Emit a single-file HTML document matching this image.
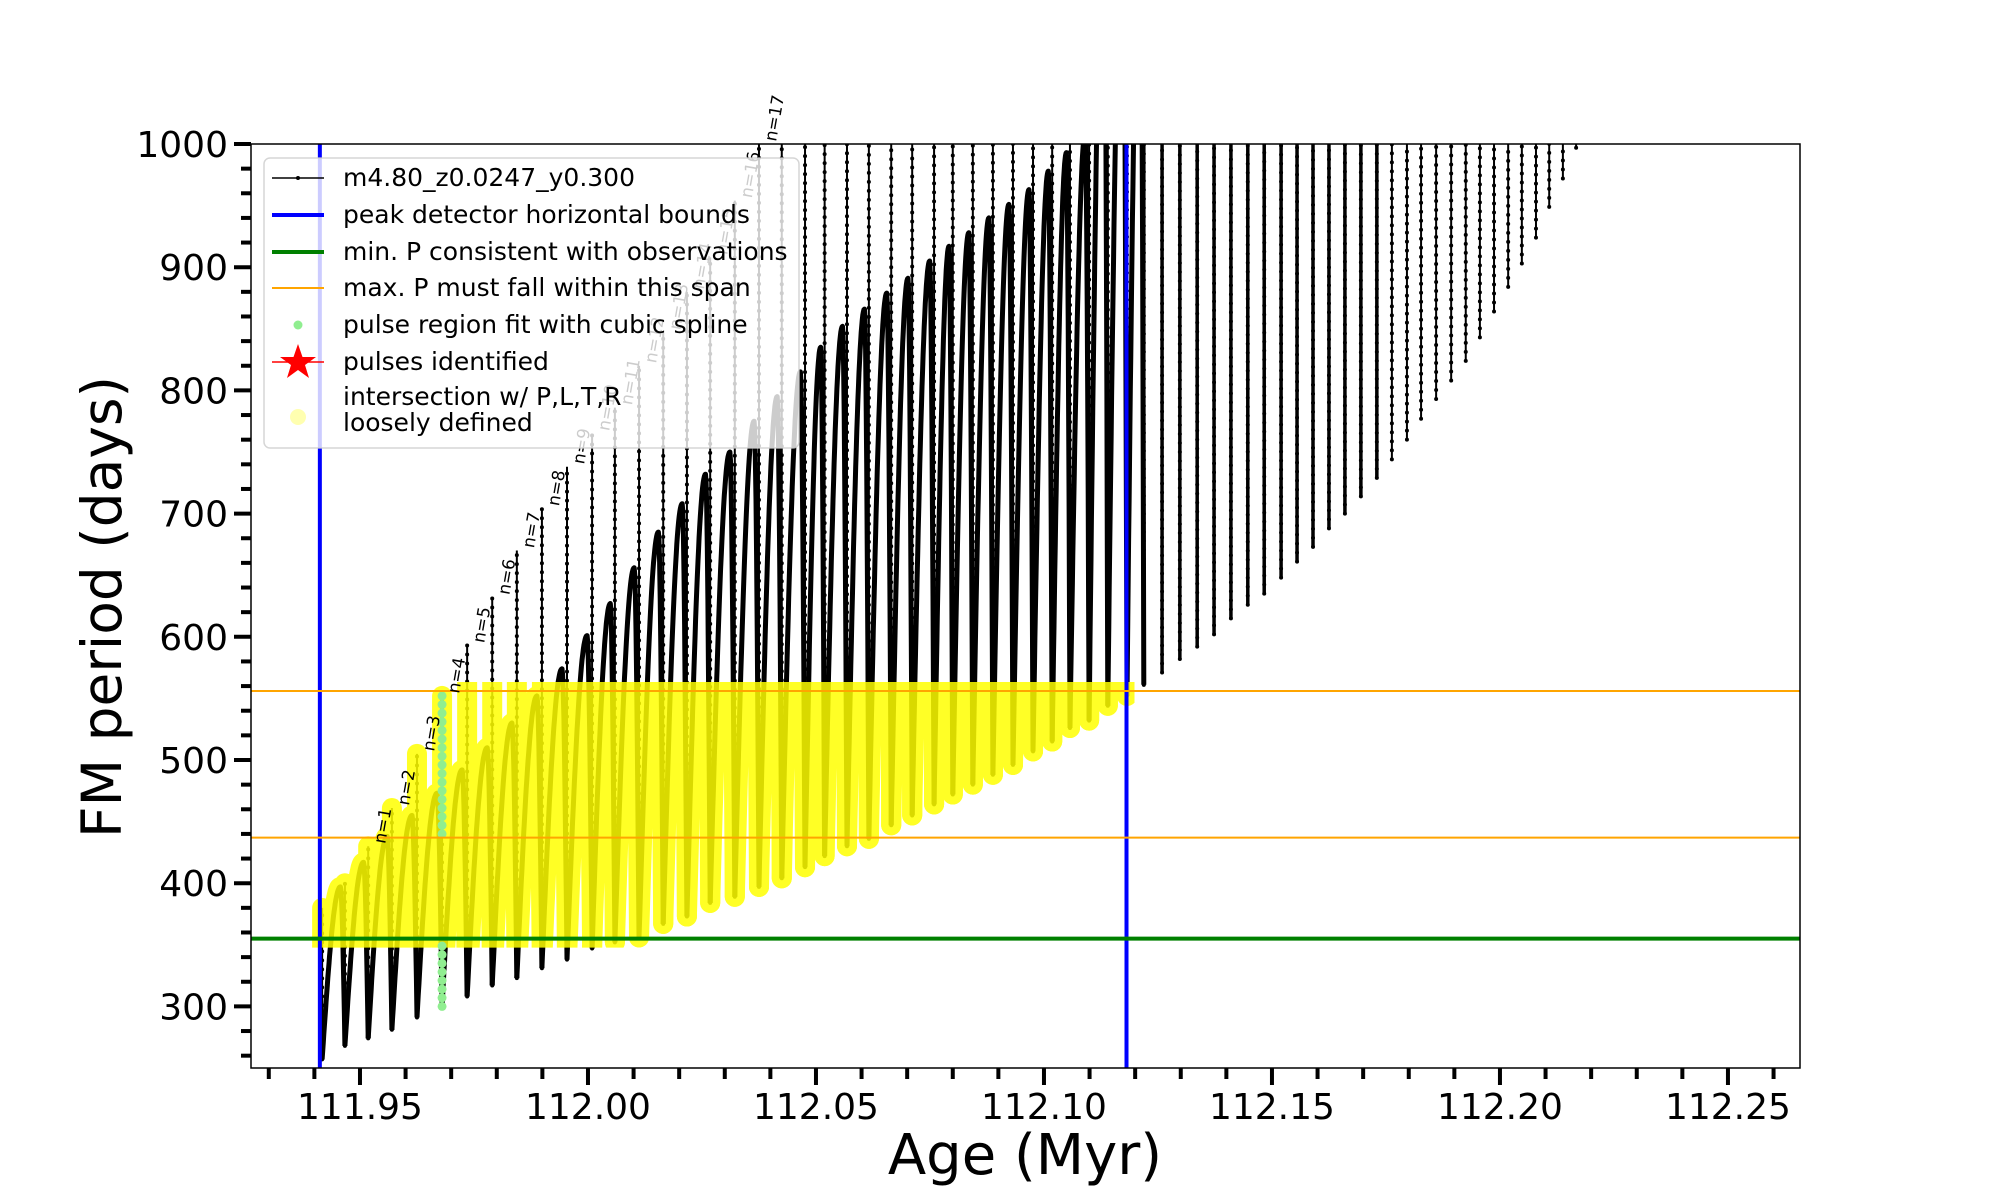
<!DOCTYPE html>
<html><head><meta charset="utf-8"><title>FM period vs Age</title>
<style>
html,body{margin:0;padding:0;background:#fff;}
svg{display:block;font-family:"DejaVu Sans","Liberation Sans",sans-serif;}
</style></head>
<body>
<svg id="chart" width="2000" height="1200" viewBox="0 0 2000 1200" xmlns="http://www.w3.org/2000/svg">
<defs>
<clipPath id="plotClip"><rect x="251" y="144" width="1549" height="924"/></clipPath>
<clipPath id="yellowClip"><rect id="yellowClipRect" x="251" y="0" width="0" height="0"/></clipPath>
</defs>
<rect x="251" y="144" width="1549" height="924" fill="#fff"/>
<g id="dataLayer" clip-path="url(#plotClip)"></g>
<g id="labelLayer"></g>
<g id="axisLayer"></g>
<g id="legend">
<rect x="264" y="158" width="535" height="290" rx="6" fill="#fff" fill-opacity="0.8" stroke="#ccc" stroke-opacity="0.8" stroke-width="1.5"/>
<g>
<line x1="272" y1="178" x2="324" y2="178" stroke="#000" stroke-width="1.5"/><circle cx="298" cy="178" r="2" fill="#000"/>
<text x="343" y="186" font-size="25">m4.80_z0.0247_y0.300</text></g>
<g>
<line x1="272" y1="215" x2="324" y2="215" stroke="#0000ff" stroke-width="4"/>
<text x="343" y="223" font-size="25">peak detector horizontal bounds</text></g>
<g>
<line x1="272" y1="252" x2="324" y2="252" stroke="#008000" stroke-width="4"/>
<text x="343" y="260" font-size="25">min. P consistent with observations</text></g>
<g>
<line x1="272" y1="288" x2="324" y2="288" stroke="#ffa500" stroke-width="2"/>
<text x="343" y="296" font-size="25">max. P must fall within this span</text></g>
<g>
<circle cx="298" cy="325" r="4.5" fill="#90ee90"/>
<text x="343" y="333" font-size="25">pulse region fit with cubic spline</text></g>
<g>
<line x1="272" y1="362" x2="324" y2="362" stroke="#ff0000" stroke-width="1.5"/>
<polygon points="298,344 302.5,357 316,357 305,365 309,378 298,370 287,378 291,365 280,357 293.5,357" fill="#ff0000"/>
<text x="343" y="370" font-size="25">pulses identified</text></g>
<g>
<circle cx="298" cy="417" r="8" fill="#ffffb0"/>
<text x="343" y="405" font-size="25">intersection w/ P,L,T,R</text>
<text x="343" y="431" font-size="25">loosely defined</text></g>
</g>
<text x="102" y="607" font-size="55" text-anchor="middle" transform="rotate(-90 102 607)" dy="19">FM period (days)</text>
<text x="1025" y="1174" font-size="56" text-anchor="middle">Age (Myr)</text>
</svg>
<script>
const pulseAges = [111.9417,111.9467,111.9518,111.9570,111.9625,111.9680,111.9735,111.9790,111.9844,111.9899,111.9954,112.0009,112.0059,112.0112,112.0165,112.0217,112.0268,112.0322,112.0375,112.0425,112.0476,112.0519,112.0568,112.0616,112.0665,112.0711,112.0759,112.0800,112.0844,112.0888,112.0932,112.0976,112.1018,112.1057,112.1099,112.1140,112.1182,112.1219,112.1259,112.1298,112.1336,112.1373,112.1410,112.1447,112.1483,112.1520,112.1555,112.1590,112.1625,112.1660,112.1695,112.1730,112.1763,112.1796,112.1827,112.1860,112.1893,112.1925,112.1956,112.1987,112.2018,112.2048,112.2079,112.2108,112.2138,112.2167];
const pulseMinP = [257,268,274,281,291,300,308,317,323,331,338,347,352,356,367,373,384,389,397,404,413,422,430,436,447,455,464,472,480,488,496,507,515,526,532,544,552,561,571,582,592,602,615,626,635,648,661,673,688,700,714,729,744,760,777,793,808,824,843,864,884,903,924,949,972,997];
const pulseMaxP = [380,400,430,461,505,552,593,632,670,704,738,765,786,820,847,880,908,954,1100,1100,1100,1100,1100,1100,1100,1100,1100,1100,1100,1100,1100,1100,1100,1100,1100,1100,1100,1100,1100,1100,1100,1100,1100,1100,1100,1100,1100,1100,1100,1100,1100,1100,1100,1100,1100,1100,1100,1100,1100,1100,1100,1100,1100,1100,1100,1100];
const archPeakP = [397,417,438,455,473,492,510,530,552,574,601,627,656,685,708,732,750,775,795,815,835,852,866,879,891,905,917,928,940,951,963,978,993,1010,1200,1200,1200,null,null,null,null,null,null,null,null,null,null,null,null,null,null,null,null,null,null,null,null,null,null,null,null,null,null,null,null,null];
const harmonicLabels = [1,2,3,4,5,6,7,8,9,10,11,12,13,14,15,16,17];
const peakBoundAges = [111.9412,112.1181];
const minPeriod = [355];
const maxPeriodSpan = [437,556];
const splinePulseIndex = [5];
const xMajorTicks = [111.95,112.00,112.05,112.10,112.15,112.20,112.25];
const xTickLabels = ["111.95","112.00","112.05","112.10","112.15","112.20","112.25"];
const yMajorTicks = [300,400,500,600,700,800,900,1000];
const yTickLabels = ["300","400","500","600","700","800","900","1000"];

const NS = "http://www.w3.org/2000/svg";
const X0 = 251, X1 = 1800, Y0 = 144, Y1 = 1068;
const xMin = 111.9261, xMax = 112.2658, yMin = 250, yMax = 1000;
function xs(a){ return X0 + (a - xMin) / (xMax - xMin) * (X1 - X0); }
function ys(p){ return Y1 - (p - yMin) / (yMax - yMin) * (Y1 - Y0); }
function mk(tag, attrs, parent){ const e = document.createElementNS(NS, tag); for (const k in attrs) e.setAttribute(k, attrs[k]); parent.appendChild(e); return e; }

const dataLayer = document.getElementById('dataLayer');
const labelLayer = document.getElementById('labelLayer');
const axisLayer = document.getElementById('axisLayer');

function archPoints(i){
  const pts = [];
  if (i >= pulseAges.length - 1 || archPeakP[i] === null) return pts;
  const a0 = pulseAges[i], a1 = pulseAges[i+1];
  const p0 = pulseMinP[i], pk = archPeakP[i], p1 = pulseMinP[i+1];
  const tp = 0.8;
  for (let k = 0; k <= 40; k++){
    const t = k / 40;
    let p;
    if (t <= tp) p = p0 + (pk - p0) * Math.sin(Math.PI / 2 * t / tp);
    else { const u = (t - tp) / (1 - tp); p = pk - (pk - p1) * (1 - Math.cos(Math.PI / 2 * u)); }
    pts.push([xs(a0 + (a1 - a0) * t), ys(p)]);
  }
  return pts;
}
function spikeD(i){ const x = xs(pulseAges[i]); return 'M' + x + ',' + ys(pulseMinP[i]) + 'L' + x + ',' + ys(pulseMaxP[i]); }
function archD(i){ const pts = archPoints(i); if (!pts.length) return ''; return 'M' + pts.map(p => p[0].toFixed(1) + ',' + p[1].toFixed(1)).join('L'); }

const trackGroup = mk('g', {}, dataLayer);


for (let i = 0; i < pulseAges.length; i++){
  const thick = (archPeakP[i] === null && i < 52) ? 3.5 : 2;
  const s = mk('path', {d: spikeD(i), stroke: '#000', 'stroke-width': thick, fill: 'none'}, trackGroup);
  
  
  const dots = mk('path', {d: spikeD(i), stroke: '#000', 'stroke-width': 4, 'stroke-linecap': 'round', 'stroke-dasharray': '0 9', fill: 'none'}, trackGroup);
  
  
  const d = archD(i);
  if (d){
    const a = mk('path', {d: d, stroke: '#000', 'stroke-width': 5, fill: 'none', 'stroke-linejoin': 'round'}, trackGroup);
    
    
  }
}

// yellow intersection markers (region clipped)
const ycr = document.getElementById('yellowClipRect');
ycr.setAttribute('width', xs(peakBoundAges[1]) + 8 - X0);
ycr.setAttribute('y', ys(maxPeriodSpan[1]) - 9);
ycr.setAttribute('height', ys(minPeriod[0]) - ys(maxPeriodSpan[1]) + 18);
const yellowGroup = mk('g', {'clip-path': 'url(#yellowClip)', opacity: 0.85}, dataLayer);


for (let i = 0; i < pulseAges.length; i++){
  if (pulseAges[i] > peakBoundAges[1] + 0.001) break;
  const s = mk('path', {d: spikeD(i), stroke: '#ffff00', 'stroke-width': 20, 'stroke-linecap': 'round', fill: 'none'}, yellowGroup);
  
  
  const d = archD(i);
  if (d){
    const a = mk('path', {d: d, stroke: '#ffff00', 'stroke-width': 20, 'stroke-linecap': 'round', 'stroke-linejoin': 'round', fill: 'none'}, yellowGroup);
    
    
  }
}

// green spline points
for (const si of splinePulseIndex){
  const x = xs(pulseAges[si]);
  const lo = pulseMinP[si], hi = pulseMaxP[si];
  for (let p = lo; p <= hi; p += 7){
    if (p > minPeriod[0] && p < 440) continue;
    const c = mk('circle', {cx: x, cy: ys(p), r: 4.5, fill: '#90ee90'}, dataLayer);
    
    
  }
}

// reference lines
for (const a of peakBoundAges){
  const l = mk('line', {x1: xs(a), x2: xs(a), y1: Y0, y2: Y1, stroke: '#0000ff', 'stroke-width': 4}, dataLayer);
  
  
}
for (const p of minPeriod){
  const l = mk('line', {x1: X0, x2: X1, y1: ys(p), y2: ys(p), stroke: '#008000', 'stroke-width': 4}, dataLayer);
  
  
}
for (const p of maxPeriodSpan){
  const l = mk('line', {x1: X0, x2: X1, y1: ys(p), y2: ys(p), stroke: '#ffa500', 'stroke-width': 2}, dataLayer);
  
  
}

// harmonic labels (not clipped)
for (let j = 0; j < harmonicLabels.length; j++){
  const idx = harmonicLabels[j] + 1;
  const x = xs(pulseAges[idx]) + 17, y = ys(Math.min(pulseMaxP[idx], 1000)) - 2;
  const t = mk('text', {x: x, y: y, 'font-size': 17, transform: 'rotate(-80 ' + x + ' ' + y + ')'}, labelLayer);
  t.textContent = 'n=' + harmonicLabels[j];
  
  
}

// axes frame
const frame = mk('rect', {x: X0, y: Y0, width: X1 - X0, height: Y1 - Y0, fill: 'none', stroke: '#000', 'stroke-width': 1.5}, axisLayer);



for (let k = 0; k <= 34; k++){
  const a = 111.93 + k * 0.01;
  if (a > xMax) break;
  const x = xs(a);
  const major = xMajorTicks.some(v => Math.abs(v - a) < 1e-6);
  const t = mk('line', {x1: x, x2: x, y1: Y1, y2: Y1 + (major ? 17 : 11), stroke: '#000', 'stroke-width': 4}, axisLayer);
  
  
}
for (let j = 0; j < xMajorTicks.length; j++){
  const t = mk('text', {x: xs(xMajorTicks[j]), y: 1119, 'font-size': 36, 'text-anchor': 'middle'}, axisLayer);
  t.textContent = xTickLabels[j];
  
  
}
for (let p = 260; p <= 1000; p += 20){
  const y = ys(p);
  const major = p % 100 === 0;
  const t = mk('line', {x1: X0, x2: X0 - (major ? 17 : 10), y1: y, y2: y, stroke: '#000', 'stroke-width': 4}, axisLayer);
  
  
}
for (let j = 0; j < yMajorTicks.length; j++){
  const t = mk('text', {x: 228, y: ys(yMajorTicks[j]) + 13, 'font-size': 36, 'text-anchor': 'end'}, axisLayer);
  t.textContent = yTickLabels[j];
  
  
}
</script>
</body></html>
